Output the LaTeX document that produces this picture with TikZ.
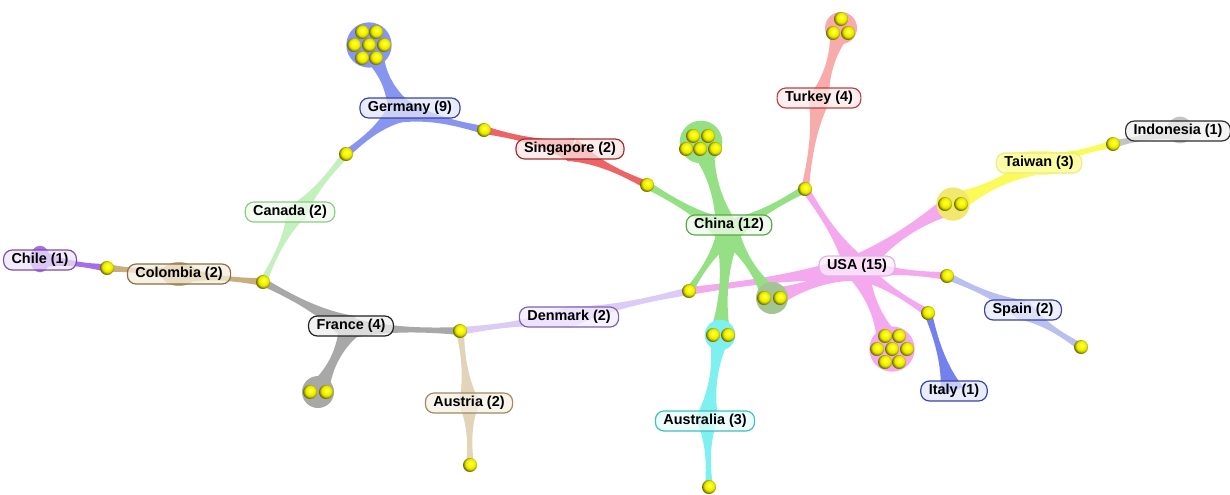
\documentclass[tikz,border=0pt]{standalone}
\usepackage{fontspec}
\setmainfont{Liberation Sans}
\usetikzlibrary{calc,shadings}

% band colours (C), label borders (D), label fills (F)
\definecolor{chileC}{HTML}{A56EE6}\definecolor{chileD}{HTML}{7A4FB0}\definecolor{chileF}{HTML}{EEE4FA}
\definecolor{colC}{HTML}{C9AD7E}\definecolor{colD}{HTML}{8A7040}\definecolor{colF}{HTML}{F3ECDC}
\definecolor{canC}{HTML}{C4F0BE}\definecolor{canD}{HTML}{8CCC84}\definecolor{canF}{HTML}{F0FBEE}
\definecolor{fraC}{HTML}{A8A8A8}\definecolor{fraD}{HTML}{202020}\definecolor{fraF}{HTML}{EEEEEE}
\definecolor{gerC}{HTML}{8895EE}\definecolor{gerD}{HTML}{3A44A0}\definecolor{gerF}{HTML}{E2E5FB}
\definecolor{sinC}{HTML}{EE6464}\definecolor{sinD}{HTML}{A03030}\definecolor{sinF}{HTML}{FBE4E4}
\definecolor{chnC}{HTML}{95E085}\definecolor{chnD}{HTML}{5AA84A}\definecolor{chnF}{HTML}{EEFAEA}
\definecolor{turC}{HTML}{F7ABAB}\definecolor{turD}{HTML}{C04040}\definecolor{turF}{HTML}{FDE9E9}
\definecolor{twC}{HTML}{FAFA5A}\definecolor{twD}{HTML}{ECEC78}\definecolor{twF}{HTML}{FDFDA8}
\definecolor{indC}{HTML}{C4C4C4}\definecolor{indD}{HTML}{303030}\definecolor{indF}{HTML}{F0F0F0}
\definecolor{usaC}{HTML}{F4A8EE}\definecolor{usaD}{HTML}{E6B0E6}\definecolor{usaF}{HTML}{FDF0FC}
\definecolor{denC}{HTML}{DCCBF5}\definecolor{denD}{HTML}{8060B0}\definecolor{denF}{HTML}{F3ECFD}
\definecolor{spaC}{HTML}{B9C0EE}\definecolor{spaD}{HTML}{3A44A0}\definecolor{spaF}{HTML}{E8EAFB}
\definecolor{itaC}{HTML}{7480EE}\definecolor{itaD}{HTML}{3A44A0}\definecolor{itaF}{HTML}{E2E5FB}
\definecolor{ausC}{HTML}{E2D4B8}\definecolor{ausD}{HTML}{A08A60}\definecolor{ausF}{HTML}{F6F0E4}
\definecolor{autC}{HTML}{7FF0F0}\definecolor{autD}{HTML}{40C0C0}\definecolor{autF}{HTML}{E6FCFC}
\definecolor{mixC}{HTML}{A3C493}
\definecolor{twBlob}{HTML}{F2E870}

% glossy yellow document ball
\pgfdeclareradialshading{docball}{\pgfpoint{2bp}{7bp}}{%
  color(0bp)=(yellow!35!white); color(7bp)=(yellow); color(18bp)=(yellow!90!black);
  color(24bp)=(yellow!55!black); color(27bp)=(yellow!40!black); color(50bp)=(yellow!40!black)}

% tapered band: colour, hub, target, hub half-width, waist, end half-width, bend
\newcommand{\tentacle}[7]{%
  \coordinate (tA) at (#2.center);
  \coordinate (tB) at (#3.center);
  \coordinate (t1) at ($(tA)!0.33!(tB)$);
  \coordinate (t2) at ($(tA)!0.67!(tB)$);
  \fill[#1] ($(tA)!#4!90:(tB)$)
    .. controls ($(t1)!#7+#5!90:(tB)$) and ($(t2)!#7+#5!90:(tB)$) .. ($(tB)!#6!-90:(tA)$)
    -- ($(tB)!#6!90:(tA)$)
    .. controls ($(t2)!#7-#5!90:(tB)$) and ($(t1)!#7-#5!90:(tB)$) .. ($(tA)!#4!-90:(tB)$)
    -- cycle;}

\tikzset{
  doc/.style={circle, inner sep=0pt, minimum size=10.5pt, shading=docball},
  lbl/.style 2 args={rounded corners=6.5pt, draw=#1, line width=0.9pt, fill=#2, fill opacity=0.75,
    text opacity=1, font=\fontsize{10.8}{12}\selectfont\bfseries, inner xsep=6pt, inner ysep=0pt,
    minimum height=15pt},
}

\begin{document}
\begin{tikzpicture}[x=0.75pt,y=-0.75pt]
\useasboundingbox (0,0) rectangle (1230,494);

% hubs of the countries
\coordinate (hChile) at (40,259);
\coordinate (hCol) at (179,274);
\coordinate (hCan) at (296,214);
\coordinate (hFra) at (350,328);
\coordinate (hGer) at (400,110);
\coordinate (hSin) at (572,150);
\coordinate (hChn) at (728,232);
\coordinate (hTur) at (819,100);
\coordinate (hTw) at (1039,163);
\coordinate (hInd) at (1180,130);
\coordinate (hUSA) at (857,268);
\coordinate (hDen) at (569,317);
\coordinate (hSpa) at (1023,310);
\coordinate (hIta) at (952,391);
\coordinate (hAus) at (469,403);
\coordinate (hAut) at (707,420);

% shared documents
\coordinate (b1) at (107,268);
\coordinate (b2) at (263,282);
\coordinate (b3) at (346,154);
\coordinate (b4) at (484,130);
\coordinate (b5) at (647,185);
\coordinate (b6) at (805,189);
\coordinate (b7) at (460,331);
\coordinate (b9) at (689,291);
\coordinate (b10) at (947,276);
\coordinate (b11) at (928,313);
\coordinate (b12) at (1113,144);
\coordinate (b13) at (470,465);
\coordinate (b14) at (709,487);
\coordinate (b15) at (1081,347);
% document groups
\coordinate (gclu) at (369,45);
\coordinate (cclu) at (701,142);
\coordinate (tclu) at (841,28);
\coordinate (uclu) at (892,349);
\coordinate (fpair) at (318,392);
\coordinate (cpair) at (772,298);
\coordinate (apair) at (720,335);
\coordinate (tpair) at (953,204);

% bands
\tentacle{denC}{hDen}{b7}{8pt}{1.2pt}{3pt}{0pt}
\tentacle{denC}{hDen}{b9}{8pt}{1.2pt}{3pt}{0pt}
\tentacle{usaC}{hUSA}{b9}{10pt}{1.5pt}{3pt}{0pt}
\tentacle{usaC}{hUSA}{b6}{10pt}{1.5pt}{3pt}{0pt}
\tentacle{usaC}{hUSA}{tpair}{10pt}{1.5pt}{8pt}{3pt}
\tentacle{usaC}{hUSA}{b10}{9pt}{1.2pt}{3pt}{0pt}
\tentacle{usaC}{hUSA}{b11}{9pt}{1.2pt}{3pt}{0pt}
\tentacle{usaC}{hUSA}{uclu}{10pt}{1.5pt}{12pt}{0pt}
\tentacle{usaC}{hUSA}{cpair}{10pt}{1.5pt}{8pt}{0pt}
\tentacle{chnC}{hChn}{cclu}{10pt}{1.5pt}{11pt}{0pt}
\tentacle{chnC}{hChn}{b5}{10pt}{1.5pt}{3pt}{0pt}
\tentacle{chnC}{hChn}{b6}{10pt}{1.5pt}{3pt}{0pt}
\tentacle{chnC}{hChn}{b9}{9pt}{1.2pt}{3pt}{0pt}
\tentacle{chnC}{hChn}{cpair}{9pt}{1.2pt}{8pt}{0pt}
\tentacle{chnC}{hChn}{apair}{10pt}{1.5pt}{8pt}{0pt}
\tentacle{autC}{hAut}{apair}{9pt}{1.2pt}{8pt}{0pt}
\tentacle{autC}{hAut}{b14}{8pt}{1.2pt}{3pt}{0pt}
\tentacle{turC}{hTur}{tclu}{8pt}{1.2pt}{9pt}{0pt}
\tentacle{turC}{hTur}{b6}{8pt}{1.2pt}{3pt}{0pt}
\tentacle{twC}{hTw}{tpair}{9pt}{1.5pt}{9pt}{0pt}
\tentacle{twC}{hTw}{b12}{9pt}{1.2pt}{3pt}{0pt}
\tentacle{indC}{hInd}{b12}{8pt}{1.2pt}{3pt}{0pt}
\tentacle{spaC}{hSpa}{b10}{8pt}{1.2pt}{3pt}{0pt}
\tentacle{spaC}{hSpa}{b15}{8pt}{1.2pt}{3pt}{0pt}
\tentacle{itaC}{hIta}{b11}{9pt}{1.2pt}{3pt}{0pt}
\tentacle{sinC}{hSin}{b4}{9pt}{1.2pt}{3pt}{0pt}
\tentacle{sinC}{hSin}{b5}{9pt}{1.2pt}{3pt}{0pt}
\tentacle{gerC}{hGer}{gclu}{10pt}{1.5pt}{12pt}{0pt}
\tentacle{gerC}{hGer}{b3}{10pt}{1.5pt}{3pt}{0pt}
\tentacle{gerC}{hGer}{b4}{10pt}{1.5pt}{3pt}{0pt}
\tentacle{canC}{hCan}{b3}{8pt}{1.2pt}{3pt}{0pt}
\tentacle{canC}{hCan}{b2}{7pt}{0.8pt}{3pt}{0pt}
\tentacle{fraC}{hFra}{b2}{10pt}{1.5pt}{3pt}{0pt}
\tentacle{fraC}{hFra}{b7}{8pt}{1.2pt}{3pt}{0pt}
\tentacle{fraC}{hFra}{fpair}{9pt}{1.2pt}{9pt}{0pt}
\tentacle{ausC}{hAus}{b7}{8pt}{1.2pt}{3pt}{0pt}
\tentacle{ausC}{hAus}{b13}{8pt}{1.2pt}{3pt}{0pt}
\tentacle{colC}{hCol}{b1}{7pt}{1pt}{3pt}{0pt}
\tentacle{colC}{hCol}{b2}{7pt}{1pt}{3pt}{0pt}
\tentacle{chileC}{hChile}{b1}{7pt}{1pt}{3pt}{0pt}

% group blobs and hub patches
\fill[gerC] (gclu) circle[radius=17pt];
\fill[chnC] (cclu) circle[radius=16pt];
\fill[turC] (tclu) circle[radius=12pt];
\fill[usaC] (uclu) circle[radius=17pt];
\fill[fraC] (fpair) circle[radius=12pt];
\fill[mixC] (cpair) circle[radius=12pt];
\fill[autC] (apair) circle[radius=11.5pt];
\fill[twBlob] (tpair) circle[radius=12.5pt];
\fill[chileC] (hChile) ellipse[x radius=7.5pt, y radius=10pt];
\fill[colC] (hCol) ellipse[x radius=13pt, y radius=9pt];
\fill[indC] (hInd) circle[radius=10pt];
\fill[twC!70!white] (hTw) ellipse[x radius=30pt, y radius=9pt];

% documents
\foreach \p in {b1,b2,b3,b4,b5,b6,b7,b9,b10,b11,b12,b13,b14,b15}
  \node[doc] (d\p) at (\p) {};
\node[doc] (gd1) at (362,32) {};
\node[doc] (gd2) at (376,32) {};
\node[doc] (gd3) at (354,45) {};
\node[doc] (gd4) at (369,45) {};
\node[doc] (gd5) at (384,45) {};
\node[doc] (gd6) at (362,58) {};
\node[doc] (gd7) at (376,58) {};
\node[doc] (cd1) at (693,136) {};
\node[doc] (cd2) at (708,136) {};
\node[doc] (cd3) at (686,149) {};
\node[doc] (cd4) at (700,149) {};
\node[doc] (cd5) at (715,149) {};
\node[doc] (td1) at (841,19) {};
\node[doc] (td2) at (833,33) {};
\node[doc] (td3) at (848,33) {};
\node[doc] (ud1) at (885,336) {};
\node[doc] (ud2) at (899,336) {};
\node[doc] (ud3) at (877,349) {};
\node[doc] (ud4) at (892,349) {};
\node[doc] (ud5) at (907,349) {};
\node[doc] (ud6) at (885,362) {};
\node[doc] (ud7) at (899,362) {};
\node[doc] (fp1) at (310,392) {};
\node[doc] (fp2) at (326,392) {};
\node[doc] (cp1) at (764,298) {};
\node[doc] (cp2) at (780,298) {};
\node[doc] (ap1) at (713,335) {};
\node[doc] (ap2) at (728,335) {};
\node[doc] (tp1) at (945,204) {};
\node[doc] (tp2) at (961,204) {};

% country labels
\node[lbl={chileD}{chileF}] (lChile) at (40,260) {Chile (1)};
\node[lbl={colD}{colF}] (lCol) at (179,274) {Colombia (2)};
\node[lbl={canD}{canF}] (lCan) at (290,212) {Canada (2)};
\node[lbl={fraD}{fraF}] (lFra) at (351,326) {France (4)};
\node[lbl={gerD}{gerF}] (lGer) at (410,108) {Germany (9)};
\node[lbl={sinD}{sinF}] (lSin) at (570,149) {Singapore (2)};
\node[lbl={chnD}{chnF}] (lChn) at (729,225) {China (12)};
\node[lbl={turD}{turF}] (lTur) at (819,98) {Turkey (4)};
\node[lbl={twD}{twF}] (lTw) at (1039,163) {Taiwan (3)};
\node[lbl={indD}{indF}] (lInd) at (1178,131) {Indonesia (1)};
\node[lbl={usaD}{usaF}] (lUSA) at (857,266) {USA (15)};
\node[lbl={denD}{denF}] (lDen) at (569,317) {Denmark (2)};
\node[lbl={spaD}{spaF}] (lSpa) at (1023,310) {Spain (2)};
\node[lbl={itaD}{itaF}] (lIta) at (954,391) {Italy (1)};
\node[lbl={ausD}{ausF}] (lAus) at (469,403) {Austria (2)};
\node[lbl={autD}{autF}] (lAut) at (705,421) {Australia (3)};
\end{tikzpicture}
\end{document}
